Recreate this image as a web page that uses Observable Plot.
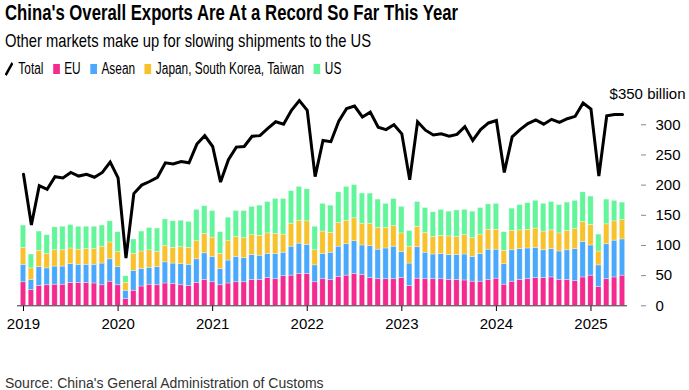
<!DOCTYPE html>
<html>
<head>
<meta charset="utf-8">
<script src="https://cdn.jsdelivr.net/npm/d3@7"></script>
<script src="https://cdn.jsdelivr.net/npm/@observablehq/plot@0.6"></script>
<style>
  html, body { margin: 0; padding: 0; background: #fff; }
  #wrap { position: relative; width: 689px; height: 390px; overflow: hidden; font-family: "Liberation Sans", Arial, sans-serif; }
  .narrow { font-family: "Liberation Sans Narrow", "Arial Narrow", "Liberation Sans", Arial, sans-serif; white-space: nowrap; position: absolute; left: 5px; transform-origin: 0 0; }
  #title { top: 2px; font-size: 22px; line-height: 22px; font-weight: bold; color: #000; }
  #subtitle { top: 31px; font-size: 19px; line-height: 19px; color: #000; }
  #legend { top: 61px; font-size: 16px; line-height: 16px; color: #000; display: flex; align-items: center; }
  #legend .sw { display: inline-block; width: 9px; height: 10px; margin-right: 6px; }
  #legend .item { display: inline-flex; align-items: center; margin-right: 13px; }
  #chart { position: absolute; left: 0; top: 80px; }
  #source { position: absolute; left: 5px; top: 376px; font-size: 14px; line-height: 14px; color: #333; white-space: nowrap; }
</style>
</head>
<body>
<div id="wrap">
  <div id="title" class="narrow">China's Overall Exports Are At a Record So Far This Year</div>
  <div id="subtitle" class="narrow">Other markets make up for slowing shipments to the US</div>
  <div id="legend" class="narrow"></div>
  <div id="chart"></div>
  <div id="source">Source: China's General Administration of Customs</div>
</div>
<script>
// Monthly data, Jan 2019 – May 2025 ($ billion)
const seriesNames = ["EU", "Asean", "Japan, South Korea, Taiwan", "US"];
const seriesColors = ["#f42a8f", "#4aa9fc", "#f8c22c", "#63f59a"];
const yearLabels = ["2019", "2020", "2021", "2022", "2023", "2024", "2025"];
const yTicks = [0, 50, 100, 150, 200, 250, 300];

const eu = [39,26,33,34,35,35,38,38,38,37,34,40,
            34,11,25,32,35,34,37,36,34,33,38,43,
            39,34,37,39,39,43,43,46,44,49,50,53,
            53,39,44,43,48,50,53,51,46,44,44,44,
            46,33,45,44,44,44,43,43,42,40,40,43,
            45,35,40,43,44,46,46,47,43,43,41,47,
            50,31,44,47,50];
const asean = [29,17,31,28,30,30,31,30,30,31,36,37,
               30,14,33,29,28,30,35,34,35,35,39,44,
               42,27,38,42,40,41,40,40,42,39,48,50,
               48,28,42,45,50,52,54,49,53,49,51,54,
               43,37,52,44,41,42,41,41,43,41,46,50,
               48,34,52,51,51,50,46,47,47,49,53,59,
               50,36,58,61,60];
const japanKoreaTaiwan = [28,19,27,24,27,27,26,25,26,26,28,28,
                          25,13,28,29,29,25,27,26,28,28,30,32,
                          32,25,32,33,33,33,33,34,33,30,38,38,
                          39,25,37,33,39,39,38,36,37,36,34,34,
                          31,28,34,33,29,30,31,30,32,31,32,33,
                          33,22,32,31,31,32,31,31,30,32,33,33,
                          34,23,33,32,32];
const us = [37,23,32,31,38,39,39,38,37,37,35,35,
            33,11,24,33,37,39,44,44,44,43,52,46,
            44,36,39,43,45,47,50,52,58,59,54,56,
            53,39,46,45,51,56,55,50,50,47,40,45,
            44,26,41,41,41,43,41,44,42,44,44,42,
            43,31,37,42,44,46,46,47,47,47,47,49,
            47,28,41,34,29];
const total = [218,134,199,193,214,212,221,215,218,213,221,238,
               212,79,186,200,206,213,237,235,239,237,268,282,
               264,205,242,263,264,281,282,294,305,301,324,340,
               324,214,274,272,306,327,331,313,321,296,292,300,
               285,209,305,291,283,285,281,284,297,274,292,303,
               307,221,280,292,302,308,301,309,304,310,314,336,
               326,215,315,317,317];

// Legend
const legend = document.getElementById("legend");
legend.innerHTML =
  `<span class="item"><svg width="11" height="14" style="margin-right:7px"><line x1="1" y1="13" x2="10" y2="1" stroke="#000" stroke-width="3"/></svg>Total</span>` +
  seriesNames.map((s, k) => `<span class="item"><span class="sw" style="background:${seriesColors[k]}"></span>${s}</span>`).join("");

// Condensed headline look: fit the header lines to the reference widths
function fitWidth(id, target) {
  const el = document.getElementById(id);
  const w = el.getBoundingClientRect().width;
  if (w > target + 2) el.style.transform = `scaleX(${target / w})`;
}
fitWidth("title", 453);
fitWidth("subtitle", 366);
fitWidth("legend", 346);

// Long table for stacking
const seriesValues = [eu, asean, japanKoreaTaiwan, us];
const rows = [];
seriesValues.forEach((arr, k) => arr.forEach((v, i) => rows.push({i, series: seriesNames[k], value: v})));
const half = 0.34;

const W = 689, H = 280;
const chart = Plot.plot({
  width: W,
  height: H,
  marginLeft: 15,
  marginRight: 49,
  marginTop: 14,
  marginBottom: 55,
  style: {fontFamily: "'Liberation Sans', Arial, sans-serif", fontSize: "15px", color: "#000", background: "transparent", overflow: "visible"},
  x: {
    type: "linear",
    domain: [0, total.length - 1],
    range: [23, 622],
    ticks: yearLabels.map((_, k) => k * 12),
    tickFormat: v => yearLabels[v / 12],
    tickSize: 6,
    tickPadding: 7,
    label: null
  },
  y: {
    domain: [0, 350],
    range: [225.3, 14.1],
    axis: "right",
    ticks: yTicks,
    tickSize: 5,
    tickPadding: 10,
    label: null
  },
  color: {domain: seriesNames, range: seriesColors},
  marks: [
    Plot.rectY(rows, {
      x1: d => d.i - half, x2: d => d.i + half, y: "value", fill: "series",
      stroke: "#ffffff", strokeWidth: 0.6, strokeOpacity: 0.55
    }),
    Plot.ruleY([0], {stroke: "#333", strokeWidth: 1, insetLeft: 2, insetRight: 13}),
    Plot.line(total, {x: (d, i) => i, y: d => d, stroke: "#000", strokeWidth: 3, strokeLinejoin: "miter", strokeMiterlimit: 3}),
    Plot.text([350], {y: d => d, frameAnchor: "right", dx: 45, textAnchor: "end", text: d => `$${d} billion`, fill: "#000", fontSize: 15})
  ]
});
document.getElementById("chart").appendChild(chart);
// make right-axis tick marks grey like the reference
chart.querySelectorAll("g[aria-label='y-axis'] path, g[aria-label='y-axis tick'] path").forEach(p => p.setAttribute("stroke", "#888"));
</script>
</body>
</html>
